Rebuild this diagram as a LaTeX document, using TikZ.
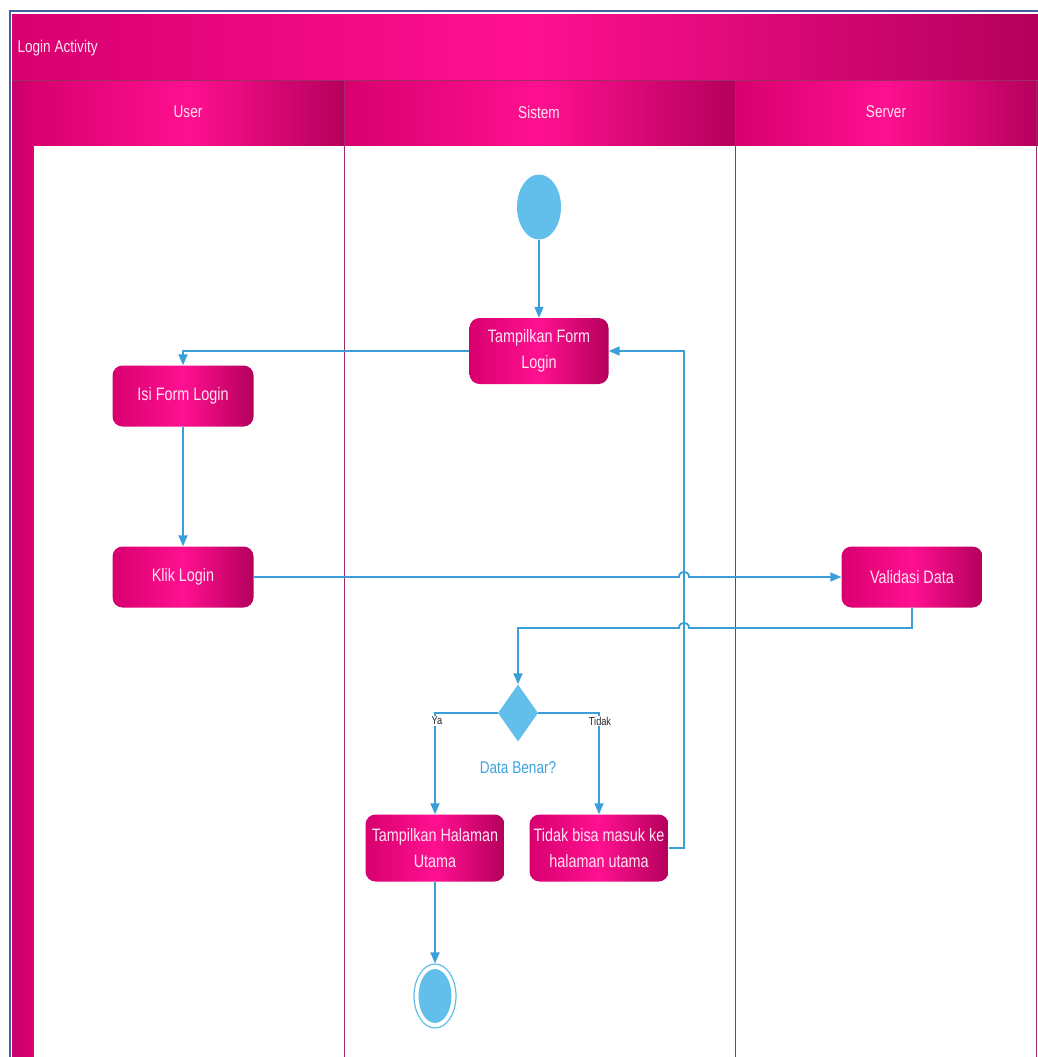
\documentclass[tikz,border=0pt]{standalone}
\usepackage{fontspec}
\setmainfont{Liberation Sans}[FakeStretch=0.8]
\usetikzlibrary{shapes.geometric,arrows.meta,calc}

\definecolor{pinkdark}{HTML}{B4005C}
\definecolor{pinkmid}{HTML}{D8006F}
\definecolor{pinkbright}{HTML}{FF1090}
\definecolor{stripc}{HTML}{C8006C}
\definecolor{lanec}{HTML}{9E2C68}
\definecolor{bluefill}{HTML}{62BFEC}
\definecolor{blueline}{HTML}{3A9FD8}
\definecolor{bluetext}{HTML}{3DA5DD}
\definecolor{frameblue}{HTML}{44619E}
\definecolor{lighttext}{HTML}{FFE4F1}

\tikzset{
  pinkshade/.style={left color=pinkmid, right color=pinkdark, middle color=pinkbright},
  actbox/.style={rectangle, rounded corners=10pt, draw=none, pinkshade,
    text=lighttext, align=center, inner sep=2pt,
    font=\fontsize{18}{26}\selectfont},
  headtext/.style={text=lighttext, font=\fontsize{17}{20}\selectfont},
  lane/.style={draw=lanec, line width=0.9pt},
  flow/.style={draw=blueline, line width=1.8pt,
    -{Triangle[length=11pt,width=9pt]}},
  guard/.style={fill=white, inner sep=1pt, text=black!85,
    font=\fontsize{11.5}{13}\selectfont},
}

\begin{document}
\begin{tikzpicture}[x=1pt,y=-1pt]
\useasboundingbox (0,0) rectangle (1038,1057);
\fill[white] (0,0) rectangle (1038,1057);

% outer frame
\draw[frameblue, line width=2pt] (10,1057) -- (10,11) -- (1038,11);

% pool title band
\shade[pinkshade] (12,15) rectangle (1038,80);
\node[headtext, anchor=west] (title) at (14,48) {Login Activity};

% left strip of the pool
\shade[left color=stripc, right color=pinkmid] (12,80) rectangle (33,1057);

% lane headers
\shade[pinkshade] (33,80) rectangle (344,145);
\shade[pinkshade] (344,80) rectangle (735,145);
\shade[pinkshade] (735,80) rectangle (1038,145);
\node[headtext] (huser) at (188,112) {User};
\node[headtext] (hsistem) at (539,112) {Sistem};
\node[headtext] (hserver) at (886,112) {Server};

% lane separators
\draw[lane] (12,80) -- (1038,80);
\draw[lane] (33,80) -- (33,1057);
\draw[lane] (344,80) -- (344,1057);
\draw[lane] (735,80) -- (735,1057);
\draw[lane] (1036,80) -- (1036,1057);

% start and end
\node[ellipse, fill=bluefill, minimum width=44pt, minimum height=65pt, inner sep=0pt]
  (start) at (539,207) {};
\node[ellipse, draw=bluefill, line width=1.2pt, fill=white,
  minimum width=42pt, minimum height=64pt, inner sep=0pt] (stop) at (435,996) {};
\node[ellipse, fill=bluefill, minimum width=33pt, minimum height=54pt, inner sep=0pt]
  (stopin) at (stop) {};

% activities
\node[actbox, minimum width=139pt, minimum height=66pt] (tform) at (539,351)
  {Tampilkan Form\\Login};
\node[actbox, minimum width=141pt, minimum height=61pt] (isi) at (183,396)
  {Isi Form Login};
\node[actbox, minimum width=141pt, minimum height=61pt] (klik) at (183,577)
  {Klik Login};
\node[actbox, minimum width=141pt, minimum height=61pt] (valid) at (912,577)
  {Validasi Data};
\node[actbox, minimum width=139pt, minimum height=67pt] (home) at (435,848)
  {Tampilkan Halaman\\Utama};
\node[actbox, minimum width=139pt, minimum height=67pt] (fail) at (599,848)
  {Tidak bisa masuk ke\\halaman utama};

% decision
\node[diamond, fill=bluefill, minimum width=40pt, minimum height=57pt, inner sep=0pt]
  (dec) at (518,713) {};
\node[text=bluetext, font=\fontsize{17}{20}\selectfont] (q) at (518,768) {Data Benar?};

% routing helpers
\coordinate (back) at (684,0);
\coordinate (turn) at (0,628);

% flows
\draw[flow] (start) -- (tform);
\draw[flow] (tform.west) -| (isi.north);
\draw[flow] (isi) -- (klik);
\draw[flow] (klik.east) -- ($(klik.east -| back)+(-5,0)$)
  .. controls +(0,-7) and +(0,-7) .. ++(10,0) -- (valid.west);
\draw[flow] (valid.south) -- (valid.south |- turn) -- ($(back |- turn)+(5,0)$)
  .. controls +(0,-7) and +(0,-7) .. ++(-10,0) -- (dec.north |- turn) -- (dec.north);
\draw[flow] (dec.west) -| (home.north);
\draw[flow] (dec.east) -| (fail.north);
\draw[flow] (fail.east) -- (fail.east -| back) |- (tform.east);
\draw[flow] (home) -- (stop);

% guards
\node[guard] (ya) at (437,721) {Ya};
\node[guard] (tidak) at (600,721) {Tidak};
\end{tikzpicture}
\end{document}
